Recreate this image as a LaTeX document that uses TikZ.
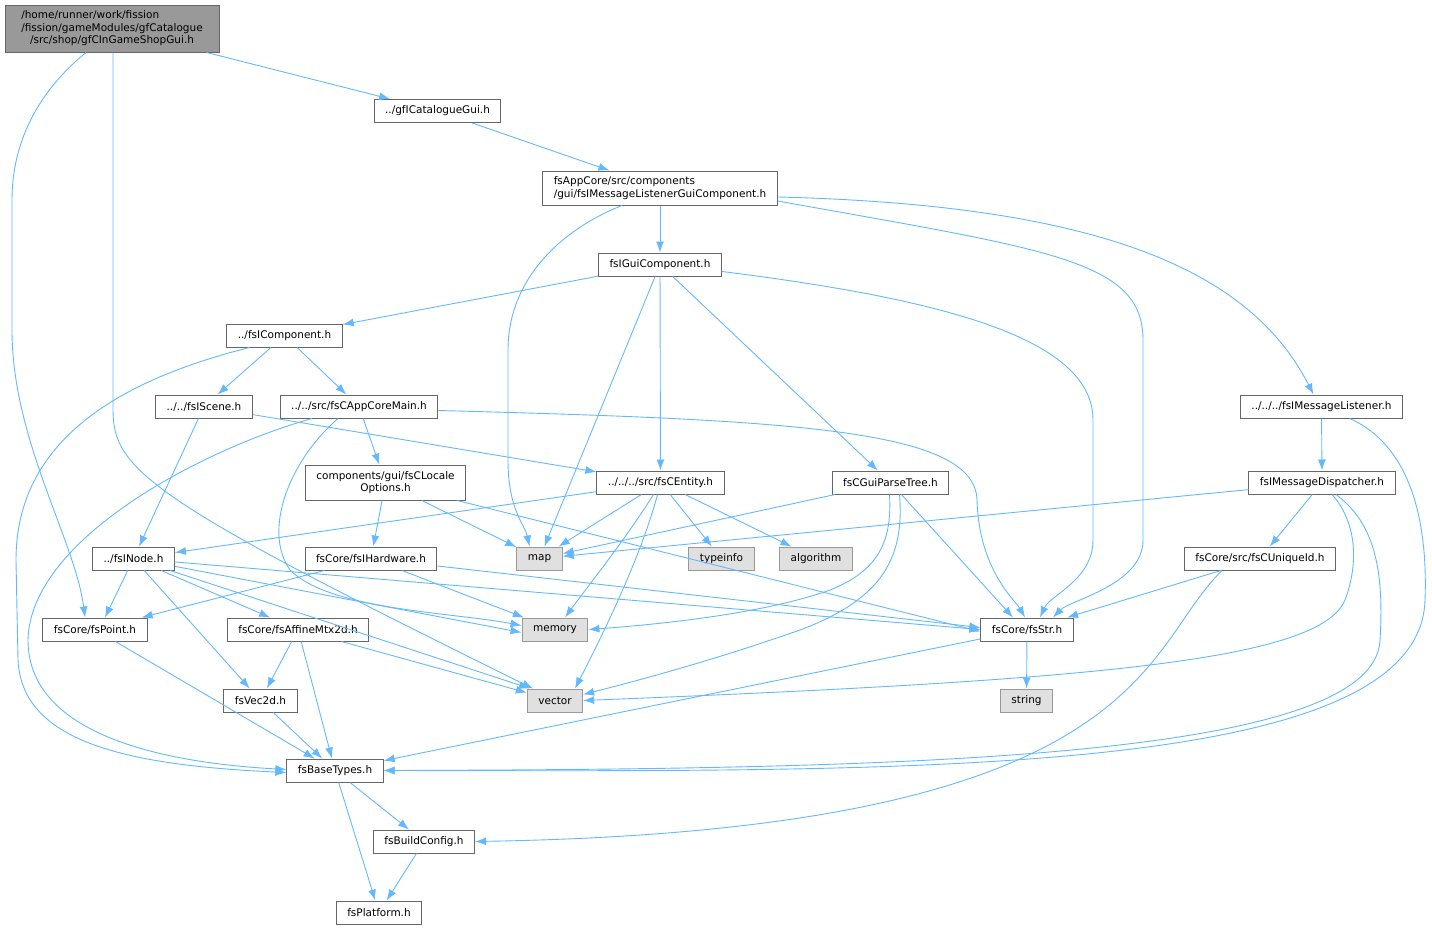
\documentclass[tikz,border=0pt]{standalone}
\usepackage{fontspec}
\setmainfont{DejaVu Sans}
\usetikzlibrary{arrows.meta}
\definecolor{edgeblue}{HTML}{63B8FF}
\definecolor{boxgray}{HTML}{666666}
\definecolor{sysgray}{HTML}{999999}
\definecolor{sysfill}{HTML}{E0E0E0}

\begin{document}
\begin{tikzpicture}[
        x=1pt, y=-1pt,
        ->,
        >={Latex[length=11pt,width=8pt]},
        link/.style={draw=edgeblue, line width=0.9pt},
        every edge/.style={link},
        file/.style={draw=boxgray, line width=1pt, fill=white,
            minimum height=23pt, inner xsep=11pt, inner ysep=2pt,
            font=\fontsize{10.5}{12.5}\selectfont},
        sys/.style={file, draw=sysgray, fill=sysfill},
        topfile/.style={file, fill=sysgray}]

    \useasboundingbox (0,0) rectangle (1432,929);

    \node [topfile, minimum width=214pt, minimum height=47pt] (root) at (112,28.5)
        {\begin{tabular}{@{}l@{}}/home/runner/work/fission\\/fission/gameModules/gfCatalogue\\\multicolumn{1}{@{}c@{}}{/src/shop/gfCInGameShopGui.h}\end{tabular}};
    \node [file]                   (cat)      at (437.5,111)   {../gfICatalogueGui.h};
    \node [file, align=left, minimum height=34pt] (mlgc) at (660,188)
        {fsAppCore/src/components\\/gui/fsIMessageListenerGuiComponent.h};
    \node [file]                   (gui)      at (660,264.5)   {fsIGuiComponent.h};
    \node [file]                   (comp)     at (284.5,335.5) {../fsIComponent.h};
    \node [file]                   (scene)    at (204,406.5)   {../../fsIScene.h};
    \node [file]                   (acm)      at (359,406.5)   {../../src/fsCAppCoreMain.h};
    \node [file, align=center, minimum height=35pt] (locale) at (385.5,482.5)
        {components/gui/fsCLocale\\Options.h};
    \node [file]                   (entity)   at (660.5,482.5) {../../../src/fsCEntity.h};
    \node [file]                   (parse)    at (890.5,482.5) {fsCGuiParseTree.h};
    \node [file]                   (listener) at (1321.5,406.5) {../../../fsIMessageListener.h};
    \node [file]                   (disp)     at (1322,482.5)  {fsIMessageDispatcher.h};
    \node [file]                   (uid)      at (1260,558.5)  {fsCore/src/fsCUniqueId.h};
    \node [sys]                    (map)      at (539.5,558.5) {map};
    \node [sys]                    (typeinfo) at (721.5,558.5) {typeinfo};
    \node [sys]                    (algo)     at (816,558.5)   {algorithm};
    \node [file]                   (inode)    at (133.5,558.5) {../fsINode.h};
    \node [file]                   (hw)       at (371,558.5)   {fsCore/fsIHardware.h};
    \node [sys]                    (memory)   at (555,629.5)   {memory};
    \node [file]                   (str)      at (1027,629.5)  {fsCore/fsStr.h};
    \node [sys]                    (string)   at (1026.5,700.5) {string};
    \node [sys]                    (vector)   at (555,700.5)   {vector};
    \node [file]                   (point)    at (95,629.5)    {fsCore/fsPoint.h};
    \node [file]                   (affine)   at (298,629.5)   {fsCore/fsAffineMtx2d.h};
    \node [file]                   (vec)      at (260.5,700.5) {fsVec2d.h};
    \node [file]                   (base)     at (335,770.5)   {fsBaseTypes.h};
    \node [file]                   (build)    at (424,841.5)   {fsBuildConfig.h};
    \node [file]                   (platform) at (379,912.5)   {fsPlatform.h};

    \path (root) edge (cat)
          (cat) edge (mlgc)
          (mlgc) edge (gui)
          (gui) edge (comp)
                edge (map)
                edge (entity)
                edge (parse)
          (comp) edge (scene)
                 edge (acm)
          (scene) edge (inode)
                  edge (entity)
          (acm) edge (locale)
          (locale) edge (hw)
                   edge (map)
                   edge ([yshift=-2pt]str.west)
          (entity) edge (inode)
                   edge (map)
                   edge (typeinfo)
                   edge (algo)
          (parse) edge (map)
                  edge ([xshift=-14pt]str.north)
          (listener) edge (disp)
          (disp) edge (map)
                 edge (uid)
          (uid) edge ([xshift=40pt]str.north)
          (inode) edge ([xshift=10pt]point.north)
                  edge (affine)
                  edge (vec)
                  edge ([xshift=-25pt]vector.north)
                  edge ([yshift=-3pt]memory.west)
                  edge (str.west)
          (hw) edge (point)
               edge (memory)
               edge ([yshift=2pt]str.west)
          (affine) edge (vec)
                   edge (base)
                   edge (vector)
          (point) edge (base)
          (vec) edge (base)
          (str) edge (string)
                edge (base)
          (base) edge (build)
                 edge (platform)
          (build) edge (platform);

    \draw [link] ([xshift=-26pt]root.south) .. controls (40,90) and (12,140) .. (12,200)
        -- (12,330) .. controls (12,440) and (75,540) .. ([xshift=-10pt]point.north);
    \draw [link] ([xshift=1pt]root.south) -- (113,410)
        .. controls (113,470) and (150,500) .. ([xshift=-22pt]vector.north);
    \draw [link] ([xshift=-38pt]mlgc.south) .. controls (560,230) and (508,280) .. (508,350)
        -- (508,460) .. controls (508,510) and (525,525) .. ([xshift=-10pt]map.north);
    \draw [link] ([yshift=-13pt]mlgc.east) .. controls (1050,250) and (1143,260) .. (1143,340)
        -- (1143,540) .. controls (1143,585) and (1070,600) .. ([xshift=26pt]str.north);
    \draw [link] ([yshift=-9pt]mlgc.east) .. controls (1100,205) and (1250,270) .. ([xshift=-8pt]listener.north);
    \draw [link] ([yshift=-7pt]gui.east) .. controls (950,300) and (1093,340) .. (1093,420)
        -- (1093,540) .. controls (1093,580) and (1050,595) .. ([xshift=13pt]str.north);
    \draw [link] ([xshift=-35pt]comp.south) .. controls (120,380) and (16,440) .. (16,560)
        -- (18,660) .. controls (22,740) and (120,765) .. ([yshift=-2pt]base.west);
    \draw [link] ([xshift=-47pt]acm.south) .. controls (200,450) and (30,540) .. (28,640)
        .. controls (28,730) and (150,762) .. ([yshift=1pt]base.west);
    \draw [link] ([xshift=-21pt]acm.south) .. controls (290,460) and (262,530) .. (290,570)
        .. controls (330,610) and (450,612) .. ([yshift=4pt]memory.west);
    \draw [link] ([yshift=-4pt]acm.east) .. controls (800,420) and (975,430) .. (977,500)
        .. controls (979,570) and (1015,600) .. ([xshift=-2pt]str.north);
    \draw [link] ([xshift=-7pt]entity.south) .. controls (625,540) and (585,590) .. ([xshift=10pt]memory.north);
    \draw [link] ([xshift=-3pt]entity.south) .. controls (640,560) and (600,640) .. ([xshift=20pt]vector.north);
    \draw [link] ([xshift=-1pt]parse.south) .. controls (892,540) and (880,570) .. (830,590)
        .. controls (760,615) and (650,625) .. (memory.east);
    \draw [link] ([xshift=9pt]parse.south) .. controls (905,560) and (880,600) .. (800,630)
        .. controls (700,665) and (620,685) .. ([yshift=6pt]vector.east);
    \draw [link] ([xshift=28pt]listener.south) .. controls (1410,445) and (1428,520) .. (1425,600)
        .. controls (1420,780) and (900,771) .. (base.east);
    \draw [link] ([xshift=14pt]disp.south) .. controls (1370,520) and (1385,560) .. (1380,640)
        .. controls (1375,760) and (900,769) .. (base.east);
    \draw [link] ([xshift=10pt]disp.south) .. controls (1355,520) and (1360,560) .. (1345,600)
        .. controls (1320,660) and (1100,680) .. (vector.east);
    \draw [link] ([xshift=-38pt]uid.south) .. controls (1140,650) and (1150,830) .. (build.east);
\end{tikzpicture}
\end{document}
